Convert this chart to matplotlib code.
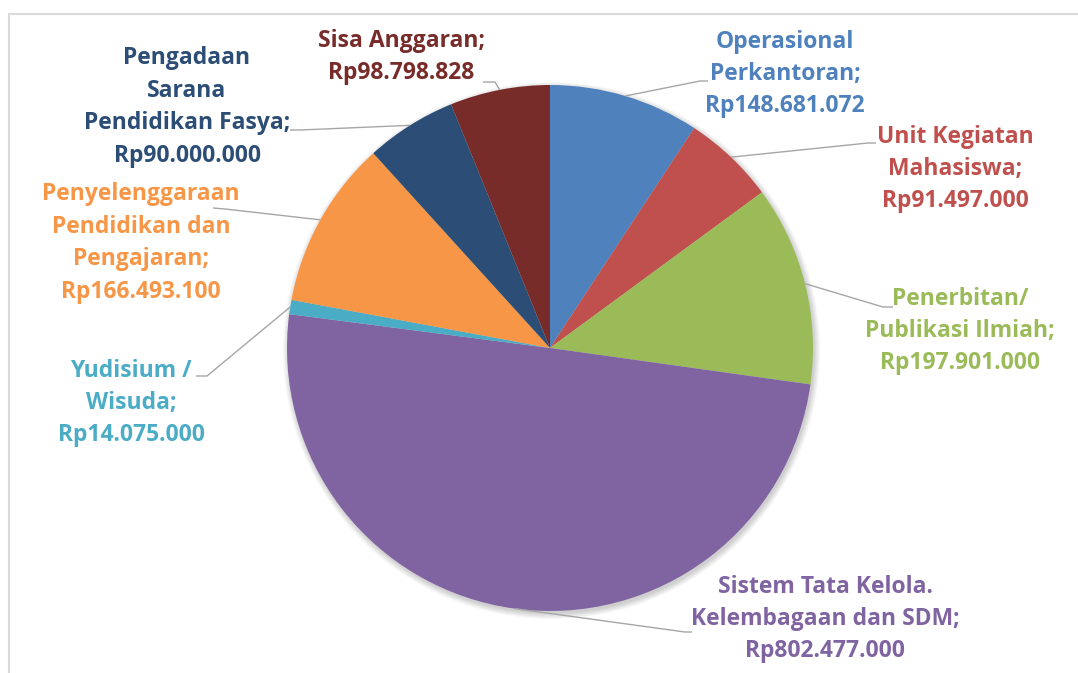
import matplotlib
matplotlib.use('Agg')
import matplotlib.pyplot as plt
import matplotlib.patches as mpatches
import numpy as np

W, H = 1078, 673

categories = [
    'Operasional\nPerkantoran',
    'Unit Kegiatan\nMahasiswa',
    'Penerbitan/\nPublikasi Ilmiah',
    'Sistem Tata Kelola,\nKelembagaan dan SDM',
    'Yudisium /\nWisuda',
    'Penyelenggaraan\nPendidikan dan\nPengajaran',
    'Pengadaan\nSarana\nPendidikan Fasya',
    'Sisa Anggaran',
]
values = [148681072, 91497000, 197901000, 802477000, 14075000, 166493100, 90000000, 98798828]
colors = ['#4F81BD', '#C0504D', '#9BBB59', '#8064A2', '#4BACC6', '#F79646', '#2C4D75', '#772C2A']

# layout in pixels from top-left of the image
label_pos = [(785, 74), (955, 169), (960, 331), (825, 619), (131, 403), (141, 243), (187, 107), (401, 57)]
elbows = [
    [(700, 81), (708, 81)],
    [(868, 143), (876, 143)],
    [(883, 307), (893, 307)],
    [(685, 632), (692, 632)],
    [(207, 376), (196, 376)],
    [(225, 209), (213, 208)],
    [(300, 130), (290, 130)],
    [(495, 82), (483, 82)],
]

cx, cy, r = 550, H - 348, 263

plt.rcParams['font.family'] = ['Open Sans', 'DejaVu Sans']

fig = plt.figure(figsize=(W / 100, H / 100), dpi=100)
ax = fig.add_axes([0, 0, 1, 1])

# soft shadow
for i in range(8):
    ax.add_patch(mpatches.Circle((cx + 1.5, cy - 2.5), r + 0.8 * i, color='black',
                                 alpha=0.025, lw=0, zorder=1))

wedges, _ = ax.pie(values, colors=colors, startangle=90, counterclock=False,
                   center=(cx, cy), radius=r, wedgeprops=dict(linewidth=0, zorder=2),
                   frame=True)
ax.set_xlim(0, W)
ax.set_ylim(0, H)
ax.set_aspect('equal')
ax.axis('off')

for w, cat, v, col, (lx, ly), elb in zip(wedges, categories, values, colors, label_pos, elbows):
    mid = np.deg2rad((w.theta1 + w.theta2) / 2)
    ex, ey = cx + r * np.cos(mid), cy + r * np.sin(mid)
    xs = [ex] + [p[0] for p in elb]
    ys = [ey] + [H - p[1] for p in elb]
    ax.plot(xs, ys, color='#A6A6A6', lw=1.0, zorder=3, solid_capstyle='butt')
    txt = f"{cat};\nRp{v:,}".replace(',', '.')
    ax.text(lx, H - ly, txt, color=col, fontsize=16.5, fontweight='bold',
            ha='center', va='center', linespacing=1.47, zorder=4)

# chart frame
fig.patches.append(mpatches.Rectangle((8.5 / W, -0.1), 1.2, (H - 13.5) / H + 0.1,
                                      transform=fig.transFigure, fill=False,
                                      edgecolor='#D9D9D9', lw=1.5))

fig.savefig('out.png', dpi=100)
